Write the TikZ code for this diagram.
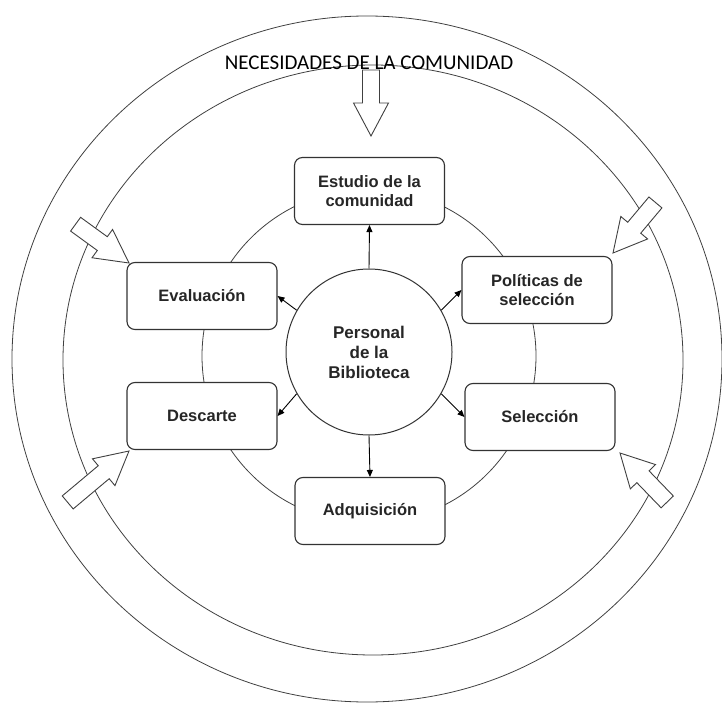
\documentclass[tikz,border=0pt]{standalone}
\usepackage{fontspec}
\setmainfont{Liberation Sans}
\newfontfamily\titlefont{Carlito}
\usetikzlibrary{arrows.meta}

\tikzset{
  ring/.style={draw=black!75, line width=0.8pt},
  box/.style={draw=black!80, line width=1.1pt, rounded corners=8pt, fill=white,
    minimum width=150pt, minimum height=67pt, align=center,
    font=\fontsize{16.5}{19.5}\selectfont\bfseries, text=black!85},
  bigarrow/.style={draw=black!75, line width=0.9pt, fill=white, line join=miter},
}
% flecha hueca: punta, angulo, largo
\newcommand{\flecha}[3]{%
  \draw[bigarrow, shift={(#1)}, rotate=#2]
    (0,0) -- (-33,17.5) -- (-33,8.5) -- (-#3,8.5) -- (-#3,-8.5)
    -- (-33,-8.5) -- (-33,-17.5) -- cycle;}

\begin{document}
\begin{tikzpicture}[x=1pt,y=-1pt,>={Triangle[length=7pt,width=6pt]}]
    \useasboundingbox (0,0) rectangle (722,703);
    % anillos
    \draw[ring] (367,359) ellipse [x radius=355pt, y radius=343pt];
    \draw[ring] (373,360) ellipse [x radius=310pt, y radius=295pt];
    \draw[ring] (369,356) circle [radius=167pt];

    % etapas
    \node[box] (estudio) at (369.5,191) {Estudio de la\\comunidad};
    \node[box] (politicas) at (537,290) {Políticas de\\selección};
    \node[box] (seleccion) at (540,417) {Selección};
    \node[box] (adquisicion) at (370,511) {Adquisición};
    \node[box] (descarte) at (202,416) {Descarte};
    \node[box] (evaluacion) at (202,296) {Evaluación};
    \node[circle, draw=black!80, line width=1pt, fill=white, minimum size=166pt,
        align=center, font=\fontsize{17}{20}\selectfont\bfseries, text=black!85]
        (personal) at (369,352) {Personal\\de la\\Biblioteca};

    \draw[->, line width=0.9pt] (personal.north) -- (estudio.south);
    \draw[->, line width=0.9pt] (personal.30) -- (politicas.west);
    \draw[->, line width=0.9pt] (personal.-30) -- (seleccion.west);
    \draw[->, line width=0.9pt] (personal.south) -- (adquisicion.north);
    \draw[->, line width=0.9pt] (personal.210) -- (descarte.east);
    \draw[->, line width=0.9pt] (personal.150) -- (evaluacion.east);

    % flechas de la comunidad
    \coordinate (punta1) at (371,136);
    \coordinate (punta2) at (613,253);
    \coordinate (punta3) at (620,453);
    \coordinate (punta4) at (129,451);
    \coordinate (punta5) at (129,263);
    \flecha{punta1}{-90}{66}
    \flecha{punta2}{-130}{66}
    \flecha{punta3}{134}{68}
    \flecha{punta4}{40}{80}
    \flecha{punta5}{-36}{66}

    \node[anchor=base, font=\titlefont\fontsize{21}{21}\selectfont] (titulo)
        at (369,70) {NECESIDADES DE LA COMUNIDAD};
\end{tikzpicture}
\end{document}
